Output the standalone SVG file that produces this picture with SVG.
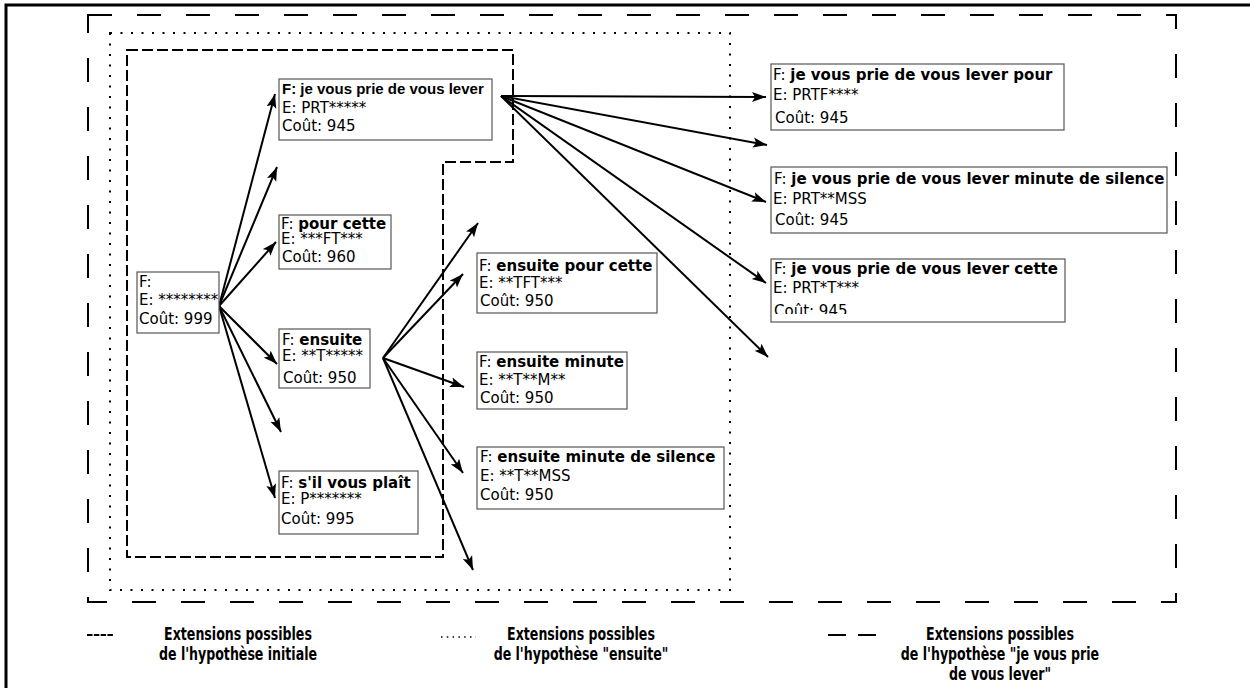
<svg xmlns="http://www.w3.org/2000/svg" width="1250" height="688" viewBox="0 0 1250 688">
<style>
.t{font-family:"DejaVu Sans",sans-serif;font-size:15px;fill:#000}
.b{font-weight:bold}
.lb{font-family:"Liberation Sans",Arial,sans-serif;font-weight:bold;font-size:15px}
.box{fill:#fff;stroke:#555;stroke-width:1.2}
.arr{stroke:#000;stroke-width:2;fill:none;marker-end:url(#ah)}
.lg{font-family:"DejaVu Sans Condensed","DejaVu Sans",sans-serif;font-stretch:condensed;font-weight:bold;font-size:14px;text-anchor:middle}
</style>
<defs>
<marker id="ah" markerUnits="userSpaceOnUse" markerWidth="15" markerHeight="11" refX="14" refY="5.5" orient="auto">
<path d="M0,0.5 L14,5.5 L0,10.5 L3,5.5 z" fill="#000"/>
</marker>
<clipPath id="cl"><rect x="760" y="250" width="320" height="64"/></clipPath>
</defs>
<rect width="1250" height="688" fill="#fff"/>
<path d="M6,688 V5 H1250" fill="none" stroke="#000" stroke-width="3"/>
<g id="regions" fill="none" stroke="#000" stroke-width="2">
<rect x="88" y="15" width="1088" height="587" stroke-dasharray="24,25"/>
<rect x="110" y="33" width="620" height="557" stroke-dasharray="2,8.5"/>
<path d="M127,50 H513 V162 H443 V557 H127 Z" stroke-dasharray="11,4"/>
</g>
<g id="connectors">
<line class="arr" x1="219" y1="306" x2="275" y2="94"/>
<line class="arr" x1="219" y1="306" x2="277" y2="167"/>
<line class="arr" x1="219" y1="306" x2="276" y2="242"/>
<line class="arr" x1="219" y1="306" x2="277" y2="364"/>
<line class="arr" x1="219" y1="306" x2="281" y2="432"/>
<line class="arr" x1="219" y1="306" x2="275" y2="498"/>
<line class="arr" x1="383" y1="358" x2="478" y2="223"/>
<line class="arr" x1="383" y1="358" x2="463" y2="274"/>
<line class="arr" x1="383" y1="358" x2="464" y2="387"/>
<line class="arr" x1="383" y1="358" x2="463" y2="473"/>
<line class="arr" x1="383" y1="358" x2="473" y2="570"/>
<line class="arr" x1="501" y1="96" x2="766" y2="97"/>
<line class="arr" x1="501" y1="96" x2="767" y2="145"/>
<line class="arr" x1="501" y1="96" x2="766" y2="202"/>
<line class="arr" x1="501" y1="96" x2="766" y2="283"/>
<line class="arr" x1="501" y1="96" x2="768" y2="357"/>
</g>
<g id="n-root">
<rect class="box" x="137" y="272" width="82" height="61"/>
<text class="t" x="139" y="287">F:</text>
<text class="t" x="139" y="305">E: ********</text>
<text class="t" x="139" y="324">Coût: 999</text>
</g>
<g id="n-lever">
<rect class="box" x="279" y="79" width="213" height="61"/>
<text class="lb" x="282" y="94">F: je vous prie de vous lever</text>
<text class="t" x="282" y="112.5">E: PRT*****</text>
<text class="t" x="282" y="131">Coût: 945</text>
</g>
<g id="n-pour">
<rect class="box" x="279" y="215" width="112" height="54"/>
<text class="t" x="281" y="228.5">F: <tspan class="b">pour cette</tspan></text>
<text class="t" x="281" y="244">E: ***FT***</text>
<text class="t" x="282" y="262">Coût: 960</text>
</g>
<g id="n-ensuite">
<rect class="box" x="279" y="329" width="91" height="59"/>
<text class="t" x="282" y="345">F: <tspan class="b">ensuite</tspan></text>
<text class="t" x="282" y="361">E: **T*****</text>
<text class="t" x="283" y="382.5">Coût: 950</text>
</g>
<g id="n-sil">
<rect class="box" x="279" y="471" width="139" height="63"/>
<text class="t" x="281" y="487.5">F: <tspan class="b">s'il vous plaît</tspan></text>
<text class="t" x="281" y="503.5">E: P*******</text>
<text class="t" x="281" y="524">Coût: 995</text>
</g>
<g id="n-ens-pour">
<rect class="box" x="477" y="253" width="180" height="60"/>
<text class="t" x="479" y="270.5">F: <tspan class="b">ensuite pour cette</tspan></text>
<text class="t" x="479" y="288">E: **TFT***</text>
<text class="t" x="480" y="306">Coût: 950</text>
</g>
<g id="n-ens-min">
<rect class="box" x="477" y="352" width="150" height="57"/>
<text class="t" x="479" y="366.5">F: <tspan class="b">ensuite minute</tspan></text>
<text class="t" x="479" y="385">E: **T**M**</text>
<text class="t" x="480" y="403">Coût: 950</text>
</g>
<g id="n-ens-sil">
<rect class="box" x="477" y="447" width="247" height="62"/>
<text class="t" x="480" y="462">F: <tspan class="b">ensuite minute de silence</tspan></text>
<text class="t" x="480" y="481">E: **T**MSS</text>
<text class="t" x="480" y="500">Coût: 950</text>
</g>
<g id="n-lev-pour">
<rect class="box" x="771" y="64" width="293" height="66"/>
<text class="t" x="773" y="80">F: <tspan class="b">je vous prie de vous lever pour</tspan></text>
<text class="t" x="773" y="100">E: PRTF****</text>
<text class="t" x="775" y="122.5">Coût: 945</text>
</g>
<g id="n-lev-sil">
<rect class="box" x="771" y="167" width="396" height="66"/>
<text class="t" x="774" y="184">F: <tspan class="b">je vous prie de vous lever minute de silence</tspan></text>
<text class="t" x="773" y="204">E: PRT**MSS</text>
<text class="t" x="775" y="225">Coût: 945</text>
</g>
<g id="n-lev-cette">
<rect class="box" x="771" y="259" width="294" height="63"/>
<text class="t" x="774" y="274">F: <tspan class="b">je vous prie de vous lever cette</tspan></text>
<text class="t" x="773" y="293">E: PRT*T***</text>
<text class="t" x="774" y="316" clip-path="url(#cl)">Coût: 945</text>
</g>
<g id="legend">
<line x1="87" y1="635" x2="113" y2="635" stroke="#000" stroke-width="2" stroke-dasharray="5.5,1.3"/>
<text class="lg" transform="translate(238,640) scale(1,1.25)">Extensions possibles</text>
<text class="lg" transform="translate(238,660) scale(1,1.25)">de l'hypothèse initiale</text>
<line x1="441" y1="637" x2="476" y2="637" stroke="#000" stroke-width="1.5" stroke-dasharray="1.5,4.3"/>
<text class="lg" transform="translate(581,640) scale(1,1.25)">Extensions possibles</text>
<text class="lg" transform="translate(581,660) scale(1,1.25)">de l'hypothèse "ensuite"</text>
<line x1="828" y1="635" x2="876" y2="635" stroke="#000" stroke-width="2" stroke-dasharray="18,12"/>
<text class="lg" transform="translate(1000,640) scale(1,1.25)">Extensions possibles</text>
<text class="lg" transform="translate(1000,660) scale(1,1.25)">de l'hypothèse "je vous prie</text>
<text class="lg" transform="translate(1000,680) scale(1,1.25)">de vous lever"</text>
</g>
</svg>
